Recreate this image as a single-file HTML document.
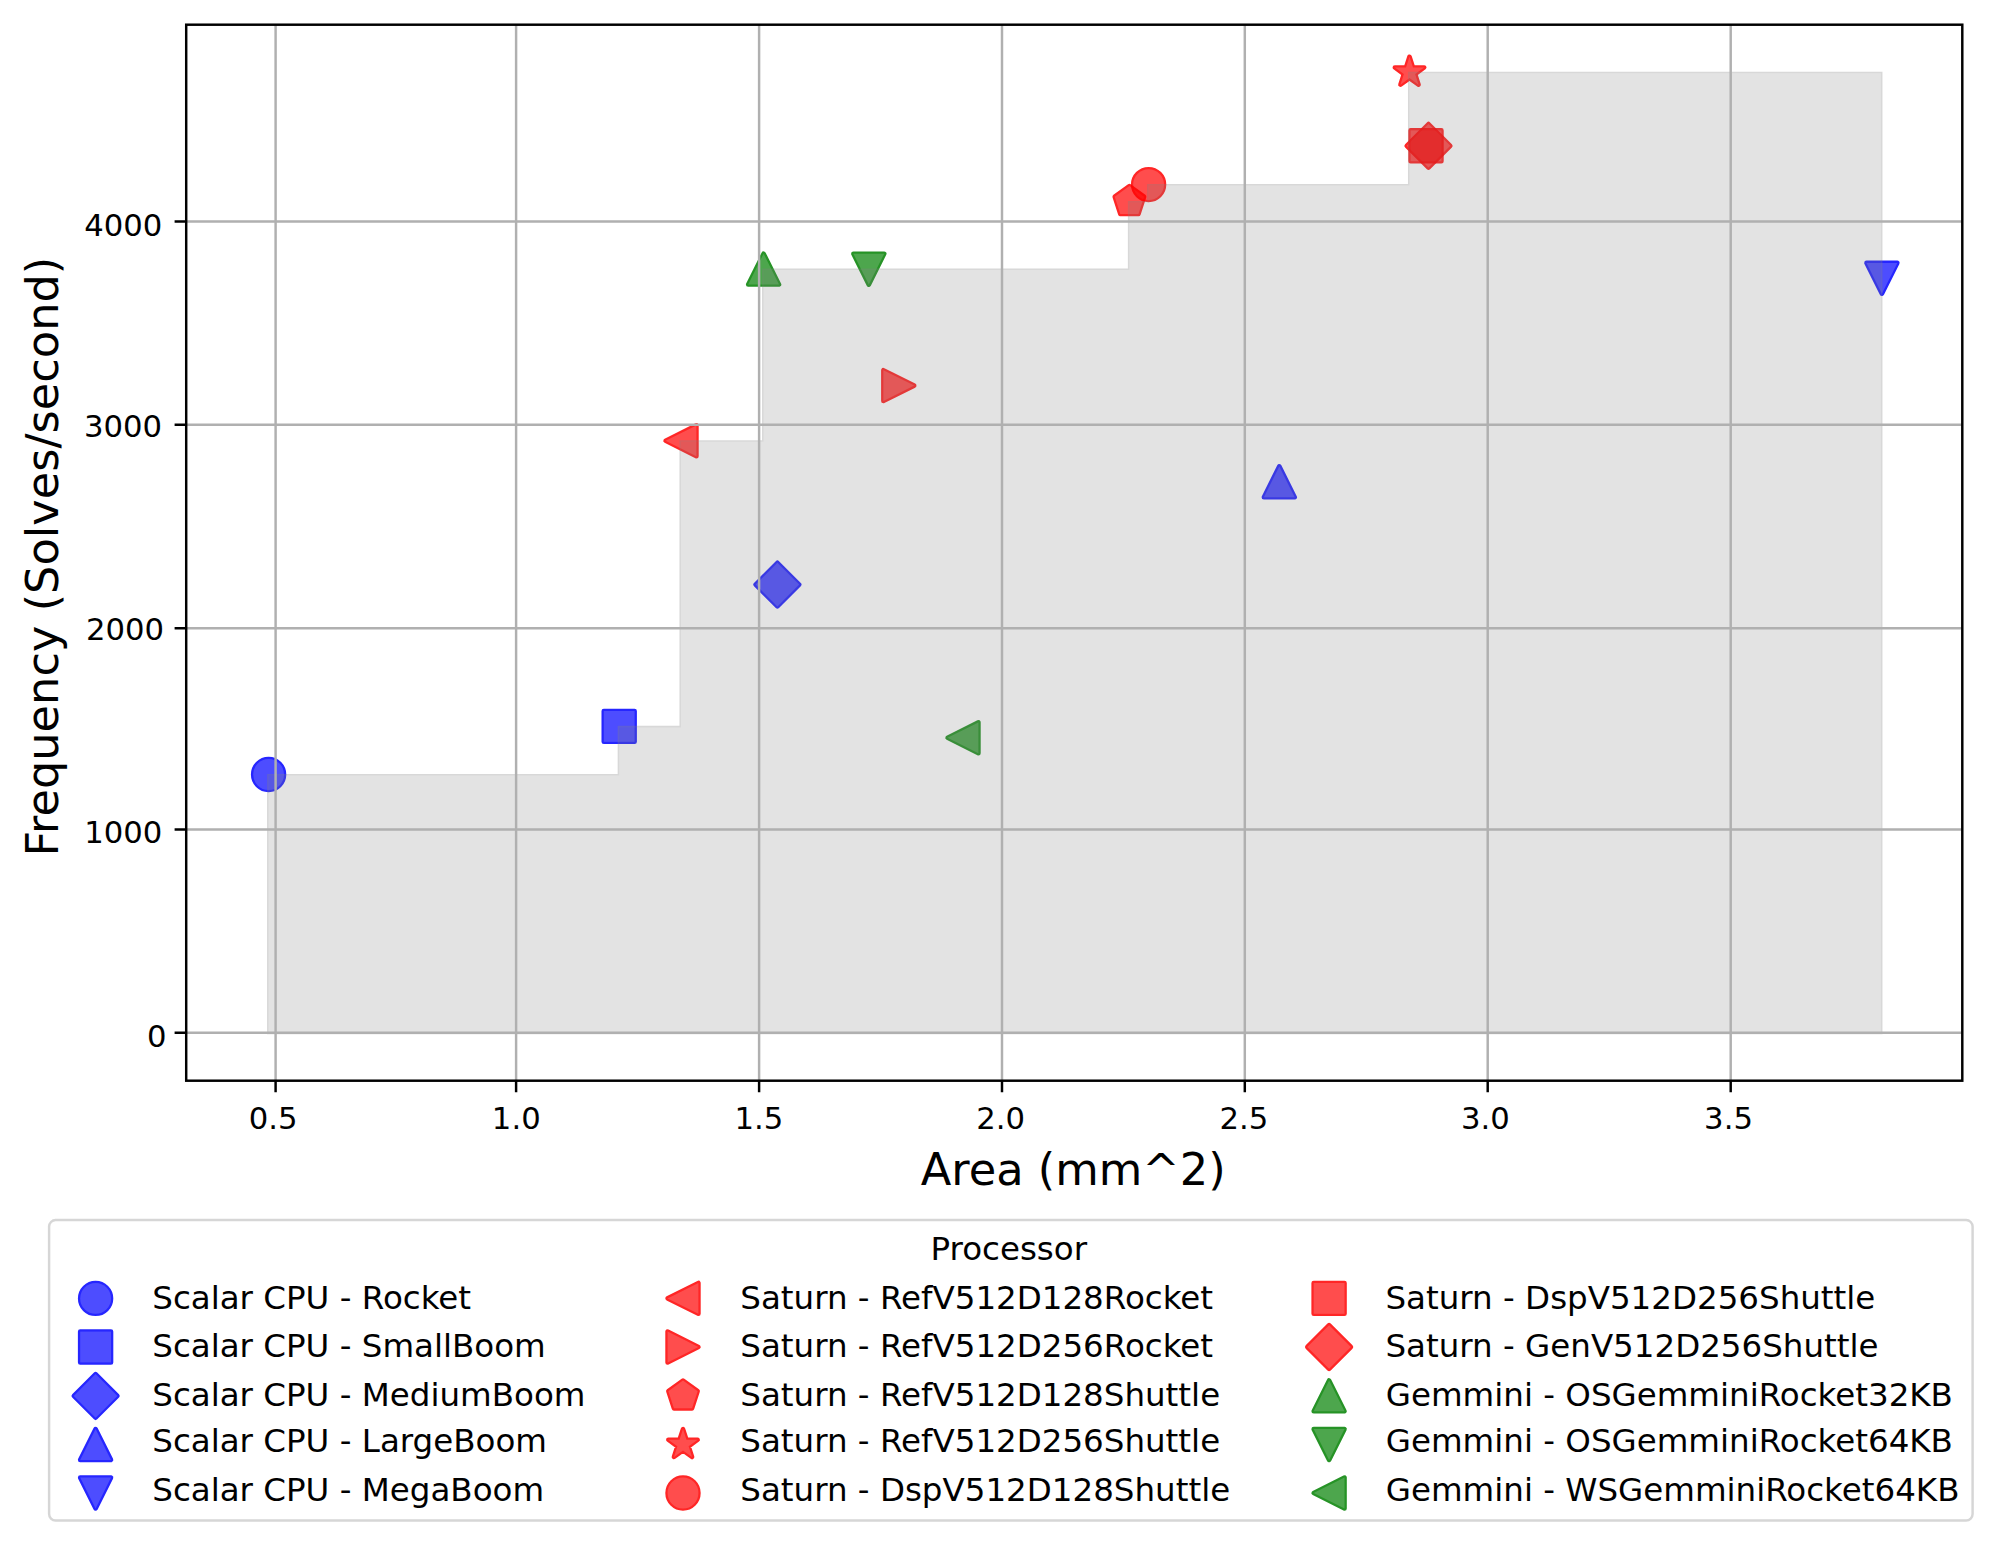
<!DOCTYPE html>
<html><head><meta charset="utf-8"><title>Area vs Frequency</title>
<style>html,body{margin:0;padding:0;background:#fff;} svg{display:block;}</style>
</head><body>
<svg width="1993" height="1567" viewBox="0 0 1993 1567">
<defs><mask id="mk0" maskUnits="userSpaceOnUse" x="239.34" y="745.24" width="58.52" height="58.52"><rect x="239.34" y="745.24" width="58.52" height="58.52" fill="rgb(217,217,217)"/><circle cx="268.6" cy="774.5" r="15.4" fill="rgb(178,178,178)"/></mask><mask id="mk1" maskUnits="userSpaceOnUse" x="589.94" y="697.14" width="58.52" height="58.52"><rect x="589.94" y="697.14" width="58.52" height="58.52" fill="rgb(217,217,217)"/><polygon points="603.8,711 634.6,711 634.6,741.8 603.8,741.8" fill="rgb(178,178,178)"/></mask><mask id="mk2" maskUnits="userSpaceOnUse" x="748.14" y="555.34" width="58.52" height="58.52"><rect x="748.14" y="555.34" width="58.52" height="58.52" fill="rgb(217,217,217)"/><polygon points="777.4,562.82 799.18,584.6 777.4,606.38 755.62,584.6" fill="rgb(178,178,178)"/></mask><mask id="mk3" maskUnits="userSpaceOnUse" x="1250.04" y="452.54" width="58.52" height="58.52"><rect x="1250.04" y="452.54" width="58.52" height="58.52" fill="rgb(217,217,217)"/><polygon points="1279.3,466.4 1294.7,497.2 1263.9,497.2" fill="rgb(178,178,178)"/></mask><mask id="mk4" maskUnits="userSpaceOnUse" x="1852.64" y="249.04" width="58.52" height="58.52"><rect x="1852.64" y="249.04" width="58.52" height="58.52" fill="rgb(217,217,217)"/><polygon points="1881.9,293.7 1897.3,262.9 1866.5,262.9" fill="rgb(178,178,178)"/></mask><mask id="mk5" maskUnits="userSpaceOnUse" x="651.74" y="411.54" width="58.52" height="58.52"><rect x="651.74" y="411.54" width="58.52" height="58.52" fill="rgb(217,217,217)"/><polygon points="665.6,440.8 696.4,425.4 696.4,456.2" fill="rgb(178,178,178)"/></mask><mask id="mk6" maskUnits="userSpaceOnUse" x="869.54" y="356.34" width="58.52" height="58.52"><rect x="869.54" y="356.34" width="58.52" height="58.52" fill="rgb(217,217,217)"/><polygon points="914.2,385.6 883.4,370.2 883.4,401" fill="rgb(178,178,178)"/></mask><mask id="mk7" maskUnits="userSpaceOnUse" x="1100.14" y="172.24" width="58.52" height="58.52"><rect x="1100.14" y="172.24" width="58.52" height="58.52" fill="rgb(217,217,217)"/><polygon points="1129.4,186.1 1114.75,196.74 1120.35,213.96 1138.45,213.96 1144.05,196.74" fill="rgb(178,178,178)"/></mask><mask id="mk8" maskUnits="userSpaceOnUse" x="1380.24" y="42.94" width="58.52" height="58.52"><rect x="1380.24" y="42.94" width="58.52" height="58.52" fill="rgb(217,217,217)"/><polygon points="1409.5,56.8 1406.04,67.44 1394.85,67.44 1403.91,74.02 1400.45,84.66 1409.5,78.08 1418.55,84.66 1415.09,74.02 1424.15,67.44 1412.96,67.44" fill="rgb(178,178,178)"/></mask><mask id="mk9" maskUnits="userSpaceOnUse" x="1119.34" y="155.34" width="58.52" height="58.52"><rect x="1119.34" y="155.34" width="58.52" height="58.52" fill="rgb(217,217,217)"/><circle cx="1148.6" cy="184.6" r="15.4" fill="rgb(178,178,178)"/></mask><mask id="mk10" maskUnits="userSpaceOnUse" x="1396.74" y="116.54" width="58.52" height="58.52"><rect x="1396.74" y="116.54" width="58.52" height="58.52" fill="rgb(217,217,217)"/><polygon points="1410.6,130.4 1441.4,130.4 1441.4,161.2 1410.6,161.2" fill="rgb(178,178,178)"/></mask><mask id="mk11" maskUnits="userSpaceOnUse" x="1399.24" y="116.54" width="58.52" height="58.52"><rect x="1399.24" y="116.54" width="58.52" height="58.52" fill="rgb(217,217,217)"/><polygon points="1428.5,124.02 1450.28,145.8 1428.5,167.58 1406.72,145.8" fill="rgb(178,178,178)"/></mask><mask id="mk12" maskUnits="userSpaceOnUse" x="734.34" y="239.84" width="58.52" height="58.52"><rect x="734.34" y="239.84" width="58.52" height="58.52" fill="rgb(217,217,217)"/><polygon points="763.6,253.7 779,284.5 748.2,284.5" fill="rgb(178,178,178)"/></mask><mask id="mk13" maskUnits="userSpaceOnUse" x="839.54" y="239.94" width="58.52" height="58.52"><rect x="839.54" y="239.94" width="58.52" height="58.52" fill="rgb(217,217,217)"/><polygon points="868.8,284.6 884.2,253.8 853.4,253.8" fill="rgb(178,178,178)"/></mask><mask id="mk14" maskUnits="userSpaceOnUse" x="933.74" y="708.54" width="58.52" height="58.52"><rect x="933.74" y="708.54" width="58.52" height="58.52" fill="rgb(217,217,217)"/><polygon points="947.6,737.8 978.4,722.4 978.4,753.2" fill="rgb(178,178,178)"/></mask><mask id="fillmask" maskUnits="userSpaceOnUse" x="0" y="0" width="1993" height="1567"><rect x="0" y="0" width="1993" height="1567" fill="rgb(79,79,79)"/><polygon points="268.6,1032.8 268.6,775.5 619.2,775.5 619.2,727.4 681,727.4 681,441.8 763.6,441.8 763.6,270.1 1129.4,270.1 1129.4,202.5 1148.6,202.5 1148.6,185.6 1409.5,185.6 1409.5,73.2 1880.9,73.2 1880.9,1032.8" fill="rgb(56,56,56)"/></mask><mask id="mk16" maskUnits="userSpaceOnUse" x="66.34" y="1269.14" width="58.52" height="58.52"><rect x="66.34" y="1269.14" width="58.52" height="58.52" fill="rgb(217,217,217)"/><circle cx="95.6" cy="1298.4" r="15.4" fill="rgb(178,178,178)"/></mask><mask id="mk17" maskUnits="userSpaceOnUse" x="66.34" y="1317.74" width="58.52" height="58.52"><rect x="66.34" y="1317.74" width="58.52" height="58.52" fill="rgb(217,217,217)"/><polygon points="80.2,1331.6 111,1331.6 111,1362.4 80.2,1362.4" fill="rgb(178,178,178)"/></mask><mask id="mk18" maskUnits="userSpaceOnUse" x="66.34" y="1366.64" width="58.52" height="58.52"><rect x="66.34" y="1366.64" width="58.52" height="58.52" fill="rgb(217,217,217)"/><polygon points="95.6,1374.12 117.38,1395.9 95.6,1417.68 73.82,1395.9" fill="rgb(178,178,178)"/></mask><mask id="mk19" maskUnits="userSpaceOnUse" x="66.34" y="1415.24" width="58.52" height="58.52"><rect x="66.34" y="1415.24" width="58.52" height="58.52" fill="rgb(217,217,217)"/><polygon points="95.6,1429.1 111,1459.9 80.2,1459.9" fill="rgb(178,178,178)"/></mask><mask id="mk20" maskUnits="userSpaceOnUse" x="66.34" y="1463.74" width="58.52" height="58.52"><rect x="66.34" y="1463.74" width="58.52" height="58.52" fill="rgb(217,217,217)"/><polygon points="95.6,1508.4 111,1477.6 80.2,1477.6" fill="rgb(178,178,178)"/></mask><mask id="mk21" maskUnits="userSpaceOnUse" x="653.74" y="1269.14" width="58.52" height="58.52"><rect x="653.74" y="1269.14" width="58.52" height="58.52" fill="rgb(217,217,217)"/><polygon points="667.6,1298.4 698.4,1283 698.4,1313.8" fill="rgb(178,178,178)"/></mask><mask id="mk22" maskUnits="userSpaceOnUse" x="653.74" y="1317.74" width="58.52" height="58.52"><rect x="653.74" y="1317.74" width="58.52" height="58.52" fill="rgb(217,217,217)"/><polygon points="698.4,1347 667.6,1331.6 667.6,1362.4" fill="rgb(178,178,178)"/></mask><mask id="mk23" maskUnits="userSpaceOnUse" x="653.74" y="1366.64" width="58.52" height="58.52"><rect x="653.74" y="1366.64" width="58.52" height="58.52" fill="rgb(217,217,217)"/><polygon points="683,1380.5 668.35,1391.14 673.95,1408.36 692.05,1408.36 697.65,1391.14" fill="rgb(178,178,178)"/></mask><mask id="mk24" maskUnits="userSpaceOnUse" x="653.74" y="1415.24" width="58.52" height="58.52"><rect x="653.74" y="1415.24" width="58.52" height="58.52" fill="rgb(217,217,217)"/><polygon points="683,1429.1 679.54,1439.74 668.35,1439.74 677.41,1446.32 673.95,1456.96 683,1450.38 692.05,1456.96 688.59,1446.32 697.65,1439.74 686.46,1439.74" fill="rgb(178,178,178)"/></mask><mask id="mk25" maskUnits="userSpaceOnUse" x="653.74" y="1463.74" width="58.52" height="58.52"><rect x="653.74" y="1463.74" width="58.52" height="58.52" fill="rgb(217,217,217)"/><circle cx="683" cy="1493" r="15.4" fill="rgb(178,178,178)"/></mask><mask id="mk26" maskUnits="userSpaceOnUse" x="1299.84" y="1269.14" width="58.52" height="58.52"><rect x="1299.84" y="1269.14" width="58.52" height="58.52" fill="rgb(217,217,217)"/><polygon points="1313.7,1283 1344.5,1283 1344.5,1313.8 1313.7,1313.8" fill="rgb(178,178,178)"/></mask><mask id="mk27" maskUnits="userSpaceOnUse" x="1299.84" y="1317.74" width="58.52" height="58.52"><rect x="1299.84" y="1317.74" width="58.52" height="58.52" fill="rgb(217,217,217)"/><polygon points="1329.1,1325.22 1350.88,1347 1329.1,1368.78 1307.32,1347" fill="rgb(178,178,178)"/></mask><mask id="mk28" maskUnits="userSpaceOnUse" x="1299.84" y="1366.64" width="58.52" height="58.52"><rect x="1299.84" y="1366.64" width="58.52" height="58.52" fill="rgb(217,217,217)"/><polygon points="1329.1,1380.5 1344.5,1411.3 1313.7,1411.3" fill="rgb(178,178,178)"/></mask><mask id="mk29" maskUnits="userSpaceOnUse" x="1299.84" y="1415.24" width="58.52" height="58.52"><rect x="1299.84" y="1415.24" width="58.52" height="58.52" fill="rgb(217,217,217)"/><polygon points="1329.1,1459.9 1344.5,1429.1 1313.7,1429.1" fill="rgb(178,178,178)"/></mask><mask id="mk30" maskUnits="userSpaceOnUse" x="1299.84" y="1463.74" width="58.52" height="58.52"><rect x="1299.84" y="1463.74" width="58.52" height="58.52" fill="rgb(217,217,217)"/><polygon points="1313.7,1493 1344.5,1477.6 1344.5,1508.4" fill="rgb(178,178,178)"/></mask></defs>
<rect x="0" y="0" width="1993" height="1567" fill="#ffffff"/>
<circle cx="268.6" cy="774.5" r="15.4" fill="rgb(0,0,255)" stroke="rgb(0,0,255)" stroke-width="4.62" stroke-linejoin="round" mask="url(#mk0)"/>
<polygon points="603.8,711 634.6,711 634.6,741.8 603.8,741.8" fill="rgb(0,0,255)" stroke="rgb(0,0,255)" stroke-width="4.62" stroke-linejoin="round" mask="url(#mk1)"/>
<polygon points="777.4,562.82 799.18,584.6 777.4,606.38 755.62,584.6" fill="rgb(0,0,255)" stroke="rgb(0,0,255)" stroke-width="4.62" stroke-linejoin="round" mask="url(#mk2)"/>
<polygon points="1279.3,466.4 1294.7,497.2 1263.9,497.2" fill="rgb(0,0,255)" stroke="rgb(0,0,255)" stroke-width="4.62" stroke-linejoin="round" mask="url(#mk3)"/>
<polygon points="1881.9,293.7 1897.3,262.9 1866.5,262.9" fill="rgb(0,0,255)" stroke="rgb(0,0,255)" stroke-width="4.62" stroke-linejoin="round" mask="url(#mk4)"/>
<polygon points="665.6,440.8 696.4,425.4 696.4,456.2" fill="rgb(255,0,0)" stroke="rgb(255,0,0)" stroke-width="4.62" stroke-linejoin="round" mask="url(#mk5)"/>
<polygon points="914.2,385.6 883.4,370.2 883.4,401" fill="rgb(255,0,0)" stroke="rgb(255,0,0)" stroke-width="4.62" stroke-linejoin="round" mask="url(#mk6)"/>
<polygon points="1129.4,186.1 1114.75,196.74 1120.35,213.96 1138.45,213.96 1144.05,196.74" fill="rgb(255,0,0)" stroke="rgb(255,0,0)" stroke-width="4.62" stroke-linejoin="round" mask="url(#mk7)"/>
<polygon points="1409.5,56.8 1406.04,67.44 1394.85,67.44 1403.91,74.02 1400.45,84.66 1409.5,78.08 1418.55,84.66 1415.09,74.02 1424.15,67.44 1412.96,67.44" fill="rgb(255,0,0)" stroke="rgb(255,0,0)" stroke-width="4.62" stroke-linejoin="round" mask="url(#mk8)"/>
<circle cx="1148.6" cy="184.6" r="15.4" fill="rgb(255,0,0)" stroke="rgb(255,0,0)" stroke-width="4.62" stroke-linejoin="round" mask="url(#mk9)"/>
<polygon points="1410.6,130.4 1441.4,130.4 1441.4,161.2 1410.6,161.2" fill="rgb(255,0,0)" stroke="rgb(255,0,0)" stroke-width="4.62" stroke-linejoin="round" mask="url(#mk10)"/>
<polygon points="1428.5,124.02 1450.28,145.8 1428.5,167.58 1406.72,145.8" fill="rgb(255,0,0)" stroke="rgb(255,0,0)" stroke-width="4.62" stroke-linejoin="round" mask="url(#mk11)"/>
<polygon points="763.6,253.7 779,284.5 748.2,284.5" fill="rgb(0,128,0)" stroke="rgb(0,128,0)" stroke-width="4.62" stroke-linejoin="round" mask="url(#mk12)"/>
<polygon points="868.8,284.6 884.2,253.8 853.4,253.8" fill="rgb(0,128,0)" stroke="rgb(0,128,0)" stroke-width="4.62" stroke-linejoin="round" mask="url(#mk13)"/>
<polygon points="947.6,737.8 978.4,722.4 978.4,753.2" fill="rgb(0,128,0)" stroke="rgb(0,128,0)" stroke-width="4.62" stroke-linejoin="round" mask="url(#mk14)"/>
<polygon points="268.6,1032.8 268.6,775.5 619.2,775.5 619.2,727.4 681,727.4 681,441.8 763.6,441.8 763.6,270.1 1129.4,270.1 1129.4,202.5 1148.6,202.5 1148.6,185.6 1409.5,185.6 1409.5,73.2 1880.9,73.2 1880.9,1032.8" fill="#808080" stroke="#808080" stroke-width="3.08" stroke-linejoin="miter" mask="url(#fillmask)"/>
<path d="M275.6 24.7V1080.7M516.1 24.7V1080.7M759.1 24.7V1080.7M1002 24.7V1080.7M1244.8 24.7V1080.7M1487.7 24.7V1080.7M1730.7 24.7V1080.7M186.2 1032.8H1962.3M186.2 829.4H1962.3M186.2 628.2H1962.3M186.2 424.8H1962.3M186.2 221.4H1962.3" stroke="#b0b0b0" stroke-width="2.46" fill="none"/>
<rect x="186.2" y="24.7" width="1776.1" height="1056" fill="none" stroke="#000" stroke-width="2.46" stroke-linejoin="miter"/>
<path d="M275.6 1080.7v11.6M516.1 1080.7v11.6M759.1 1080.7v11.6M1002 1080.7v11.6M1244.8 1080.7v11.6M1487.7 1080.7v11.6M1730.7 1080.7v11.6M186.2 1032.8h-11.6M186.2 829.4h-11.6M186.2 628.2h-11.6M186.2 424.8h-11.6M186.2 221.4h-11.6" stroke="#000" stroke-width="2.46" fill="none"/>
<g font-family="'DejaVu Sans', 'Liberation Sans', sans-serif" fill="#000">
<text x="248.82" y="1129.3" font-size="30.7" >0.5</text>
<text x="491.87" y="1129.3" font-size="30.7" >1.0</text>
<text x="734.59" y="1129.3" font-size="30.7" >1.5</text>
<text x="976.34" y="1129.3" font-size="30.7" >2.0</text>
<text x="1219.51" y="1129.3" font-size="30.7" >2.5</text>
<text x="1461.09" y="1129.3" font-size="30.7" >3.0</text>
<text x="1704.11" y="1129.3" font-size="30.7" >3.5</text>
<text x="146.9" y="1047.1" font-size="30.7" >0</text>
<text x="84.19" y="843.4" font-size="30.7" >1000</text>
<text x="85.99" y="640.1" font-size="30.7" >2000</text>
<text x="83.89" y="436.6" font-size="30.7" >3000</text>
<text x="84.19" y="235.5" font-size="30.7" >4000</text>
<text x="920.72" y="1184.7" font-size="44.7" >Area (mm^2)</text>
<text transform="translate(57.9,856.41) rotate(-90)" font-size="44.7">Frequency (Solves/second)</text>
</g>
<rect x="49.1" y="1220.1" width="1923.5" height="300.5" rx="6.5" ry="6.5" fill="#fff" fill-opacity="0.8" stroke="#cccccc" stroke-opacity="0.8" stroke-width="2.46"/>
<g font-family="'DejaVu Sans', 'Liberation Sans', sans-serif" fill="#000">
<text x="930.5" y="1259.8" font-size="32.5" >Processor</text>
<text x="152.25" y="1308.7" font-size="32.5" >Scalar CPU - Rocket</text>
<text x="152.25" y="1357.4" font-size="32.5" >Scalar CPU - SmallBoom</text>
<text x="152.25" y="1405.7" font-size="32.5" >Scalar CPU - MediumBoom</text>
<text x="152.25" y="1452.4" font-size="32.5" >Scalar CPU - LargeBoom</text>
<text x="152.25" y="1500.6" font-size="32.5" >Scalar CPU - MegaBoom</text>
<text x="740.25" y="1308.7" font-size="32.5" >Saturn - RefV512D128Rocket</text>
<text x="740.25" y="1357.4" font-size="32.5" >Saturn - RefV512D256Rocket</text>
<text x="740.25" y="1405.7" font-size="32.5" >Saturn - RefV512D128Shuttle</text>
<text x="740.25" y="1452.4" font-size="32.5" >Saturn - RefV512D256Shuttle</text>
<text x="740.25" y="1500.6" font-size="32.5" >Saturn - DspV512D128Shuttle</text>
<text x="1385.45" y="1308.7" font-size="32.5" >Saturn - DspV512D256Shuttle</text>
<text x="1385.45" y="1357.4" font-size="32.5" >Saturn - GenV512D256Shuttle</text>
<text x="1385.78" y="1405.7" font-size="32.5" >Gemmini - OSGemminiRocket32KB</text>
<text x="1385.78" y="1452.4" font-size="32.5" >Gemmini - OSGemminiRocket64KB</text>
<text x="1385.78" y="1500.6" font-size="32.5" >Gemmini - WSGemminiRocket64KB</text>
</g>
<circle cx="95.6" cy="1298.4" r="15.4" fill="rgb(0,0,255)" stroke="rgb(0,0,255)" stroke-width="4.62" stroke-linejoin="round" mask="url(#mk16)"/>
<polygon points="80.2,1331.6 111,1331.6 111,1362.4 80.2,1362.4" fill="rgb(0,0,255)" stroke="rgb(0,0,255)" stroke-width="4.62" stroke-linejoin="round" mask="url(#mk17)"/>
<polygon points="95.6,1374.12 117.38,1395.9 95.6,1417.68 73.82,1395.9" fill="rgb(0,0,255)" stroke="rgb(0,0,255)" stroke-width="4.62" stroke-linejoin="round" mask="url(#mk18)"/>
<polygon points="95.6,1429.1 111,1459.9 80.2,1459.9" fill="rgb(0,0,255)" stroke="rgb(0,0,255)" stroke-width="4.62" stroke-linejoin="round" mask="url(#mk19)"/>
<polygon points="95.6,1508.4 111,1477.6 80.2,1477.6" fill="rgb(0,0,255)" stroke="rgb(0,0,255)" stroke-width="4.62" stroke-linejoin="round" mask="url(#mk20)"/>
<polygon points="667.6,1298.4 698.4,1283 698.4,1313.8" fill="rgb(255,0,0)" stroke="rgb(255,0,0)" stroke-width="4.62" stroke-linejoin="round" mask="url(#mk21)"/>
<polygon points="698.4,1347 667.6,1331.6 667.6,1362.4" fill="rgb(255,0,0)" stroke="rgb(255,0,0)" stroke-width="4.62" stroke-linejoin="round" mask="url(#mk22)"/>
<polygon points="683,1380.5 668.35,1391.14 673.95,1408.36 692.05,1408.36 697.65,1391.14" fill="rgb(255,0,0)" stroke="rgb(255,0,0)" stroke-width="4.62" stroke-linejoin="round" mask="url(#mk23)"/>
<polygon points="683,1429.1 679.54,1439.74 668.35,1439.74 677.41,1446.32 673.95,1456.96 683,1450.38 692.05,1456.96 688.59,1446.32 697.65,1439.74 686.46,1439.74" fill="rgb(255,0,0)" stroke="rgb(255,0,0)" stroke-width="4.62" stroke-linejoin="round" mask="url(#mk24)"/>
<circle cx="683" cy="1493" r="15.4" fill="rgb(255,0,0)" stroke="rgb(255,0,0)" stroke-width="4.62" stroke-linejoin="round" mask="url(#mk25)"/>
<polygon points="1313.7,1283 1344.5,1283 1344.5,1313.8 1313.7,1313.8" fill="rgb(255,0,0)" stroke="rgb(255,0,0)" stroke-width="4.62" stroke-linejoin="round" mask="url(#mk26)"/>
<polygon points="1329.1,1325.22 1350.88,1347 1329.1,1368.78 1307.32,1347" fill="rgb(255,0,0)" stroke="rgb(255,0,0)" stroke-width="4.62" stroke-linejoin="round" mask="url(#mk27)"/>
<polygon points="1329.1,1380.5 1344.5,1411.3 1313.7,1411.3" fill="rgb(0,128,0)" stroke="rgb(0,128,0)" stroke-width="4.62" stroke-linejoin="round" mask="url(#mk28)"/>
<polygon points="1329.1,1459.9 1344.5,1429.1 1313.7,1429.1" fill="rgb(0,128,0)" stroke="rgb(0,128,0)" stroke-width="4.62" stroke-linejoin="round" mask="url(#mk29)"/>
<polygon points="1313.7,1493 1344.5,1477.6 1344.5,1508.4" fill="rgb(0,128,0)" stroke="rgb(0,128,0)" stroke-width="4.62" stroke-linejoin="round" mask="url(#mk30)"/>
</svg>
</body></html>
